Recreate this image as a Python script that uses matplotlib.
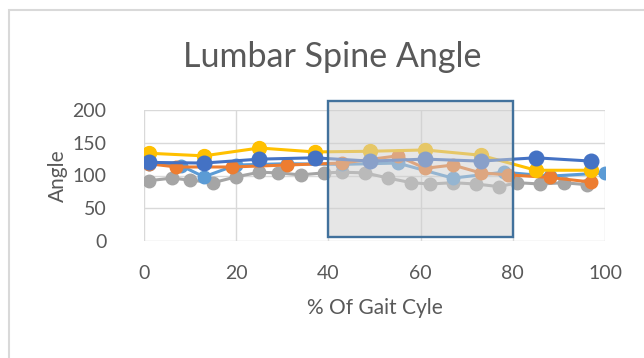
import matplotlib
matplotlib.use('Agg')
import matplotlib.pyplot as plt
from matplotlib.patches import Rectangle

plt.rcParams['font.family'] = ['Lato', 'DejaVu Sans']

# gait cycle percentages and lumbar angles, one array pair per trial
x_blue = [1, 13, 25, 37, 49, 61, 73, 85, 97]
y_blue = [120, 119, 125, 127, 122, 125, 122, 127, 122]

x_yellow = [1, 13, 25, 37, 49, 61, 73, 85, 97]
y_yellow = [134, 130, 142, 136, 137, 139, 131, 108, 108]

x_orange = [1, 7, 19, 31, 43, 55, 61, 67, 73, 79, 88, 97]
y_orange = [118, 113, 113, 116, 119, 130, 111, 116, 104, 101, 97, 90]

x_gray = [1, 6, 10, 15, 20, 25, 29, 34, 39, 43, 48, 53, 58, 62, 67, 72, 77, 81, 86, 91, 96]
y_gray = [92, 96, 93, 89, 98, 105, 104, 101, 104, 105, 104, 96, 89, 87, 89, 87, 83, 89, 87, 89, 86]

x_light = [1, 8, 13, 20, 31, 43, 55, 67, 78, 88, 100]
y_light = [118, 115, 98, 116, 118, 117, 119, 96, 105, 99, 104]

# highlighted window of the cycle
box_x = (40, 80)
box_y = (6, 214)

fig = plt.figure(figsize=(6.44, 3.58), dpi=100)
ax = fig.add_axes([144/644, 1 - 241/358, (605 - 144)/644, (241 - 110)/358])

# outer chart frame
fig.patches.append(Rectangle((9/644, -0.1), 1.2, 1 - 10/358 + 0.1, transform=fig.transFigure,
                             fill=False, edgecolor='#d9d9d9', linewidth=1.5))

ax.plot(x_gray, y_gray, color='#a5a5a5', lw=2.2, marker='o', ms=9, zorder=2)
ax.plot(x_light, y_light, color='#5b9bd5', lw=2.2, marker='o', ms=9, zorder=2)
ax.plot(x_orange, y_orange, color='#ed7d31', lw=2.2, marker='o', ms=9, zorder=2)
ax.plot(x_yellow, y_yellow, color='#ffc000', lw=2.2, marker='o', ms=10, zorder=2)
ax.plot(x_blue, y_blue, color='#4472c4', lw=2.2, marker='o', ms=10.5, zorder=3)

ax.add_patch(Rectangle((box_x[0], box_y[0]), box_x[1] - box_x[0], box_y[1] - box_y[0],
                       facecolor='#cfcfcf', alpha=0.5, edgecolor='none', zorder=4, clip_on=False))
ax.add_patch(Rectangle((box_x[0], box_y[0]), box_x[1] - box_x[0], box_y[1] - box_y[0],
                       fill=False, edgecolor='#41719c', linewidth=1.7, zorder=5, clip_on=False))

ax.set_xlim(0, 100)
ax.set_ylim(0, 200)
ax.set_xticks(range(0, 101, 20))
ax.set_yticks(range(0, 201, 50))
ax.grid(True, color='#d9d9d9', linewidth=1)
ax.set_axisbelow(True)
for s in ax.spines.values():
    s.set_visible(False)
ax.tick_params(length=0, labelsize=14, labelcolor='#595959')
ax.tick_params(axis='x', pad=17)
ax.tick_params(axis='y', pad=27)

fig.text(332/644, 1 - 57/358, 'Lumbar Spine Angle', fontsize=24.5, color='#595959',
         ha='center', va='center')
ax.set_xlabel('% Of Gait Cyle', fontsize=15, color='#595959', labelpad=12)
ax.set_ylabel('Angle', fontsize=15, color='#595959', labelpad=3)

fig.savefig('out.png', dpi=100)
